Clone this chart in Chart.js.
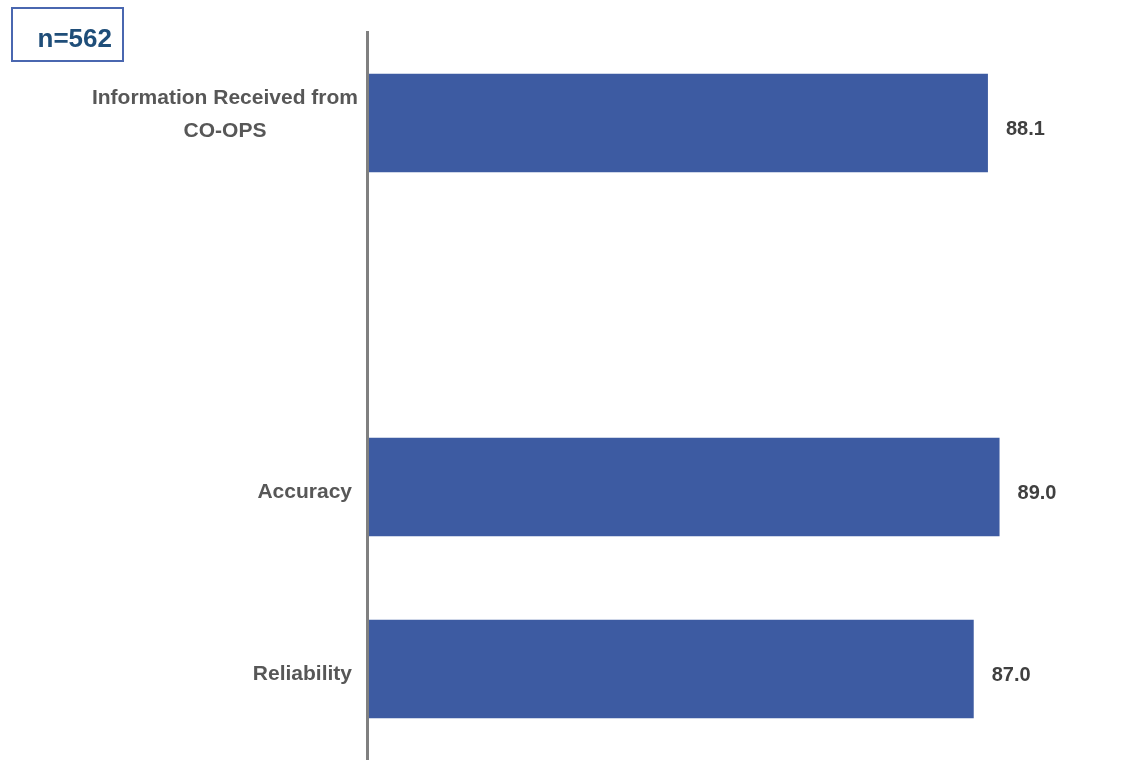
<!DOCTYPE html>
<html>
<head>
<meta charset="utf-8">
<script src="https://cdn.jsdelivr.net/npm/chart.js@4/dist/chart.umd.min.js"></script>
<style>
  body { margin: 0; background: #fff; }
  #wrap { position: relative; width: 1125px; height: 760px; }
  #nBox {
    position: absolute; left: 11px; top: 7px; width: 109px; height: 51px;
    border: 2px solid #4a67b0; box-sizing: content-box;
    font: bold 26px "Liberation Sans", Arial, sans-serif; color: #1f4e79;
    text-align: right; line-height: 58px;
  }
  #nBox span { margin-right: 10px; }
</style>
</head>
<body>
<div id="wrap">
  <canvas id="scoreChart"></canvas>
  <div id="nBox"><span>n=562</span></div>
</div>
<script>
/* data */
const categories = [['Information Received from', 'CO-OPS'], '', 'Accuracy', 'Reliability'];
const scores = [88.1, null, 89.0, 87.0];
const axisMin = 40;
const axisMax = 95;

const FONT = '"Liberation Sans", Arial, sans-serif';

/* category + value labels */
const labelPlugin = {
  id: 'labels',
  afterDatasetsDraw(chart) {
    const ctx = chart.ctx;
    const y = chart.scales.y;
    const meta = chart.getDatasetMeta(0);
    ctx.save();
    ctx.font = 'bold 21px ' + FONT;
    ctx.textBaseline = 'middle';

    categories.forEach((lab, i) => {
      const py = y.getPixelForValue(i);
      ctx.fillStyle = '#575757';
      if (Array.isArray(lab)) {
        const widest = Math.max(...lab.map(l => ctx.measureText(l).width));
        const cx = 358 - widest / 2;
        const lh = 33;
        const top = py - 8 - (lab.length - 1) * lh / 2;
        ctx.textAlign = 'center';
        lab.forEach((l, k) => ctx.fillText(l, cx, top + k * lh));
      } else if (lab) {
        ctx.textAlign = 'right';
        ctx.fillText(lab, 352, py + 5);
      }
    });

    ctx.font = 'bold 20px ' + FONT;
    ctx.fillStyle = '#404040';
    ctx.textAlign = 'left';
    meta.data.forEach((bar, i) => {
      if (scores[i] == null) return;
      ctx.fillText(scores[i].toFixed(1), bar.x + 18, bar.y + 6);
    });
    ctx.restore();
  }
};

const ctx = document.getElementById('scoreChart').getContext('2d');

new Chart(ctx, {
  type: 'bar',
  data: {
    labels: categories,
    datasets: [{
      data: scores,
      backgroundColor: '#3d5ba2',
      barPercentage: 0.54,
      categoryPercentage: 1
    }]
  },
  options: {
    indexAxis: 'y',
    responsive: true,
    maintainAspectRatio: false,
    animation: false,
    layout: { padding: { top: 32, right: 48, bottom: 0, left: 0 } },
    plugins: { legend: { display: false }, tooltip: { enabled: false } },
    scales: {
      x: { display: false, min: axisMin, max: axisMax },
      y: {
        grid: { display: false },
        ticks: { display: false },
        border: { display: true, color: '#808080', width: 3, z: 1 },
        afterFit: s => { s.width = 367; }
      }
    }
  },
  plugins: [labelPlugin]
});
</script>
</body>
</html>
